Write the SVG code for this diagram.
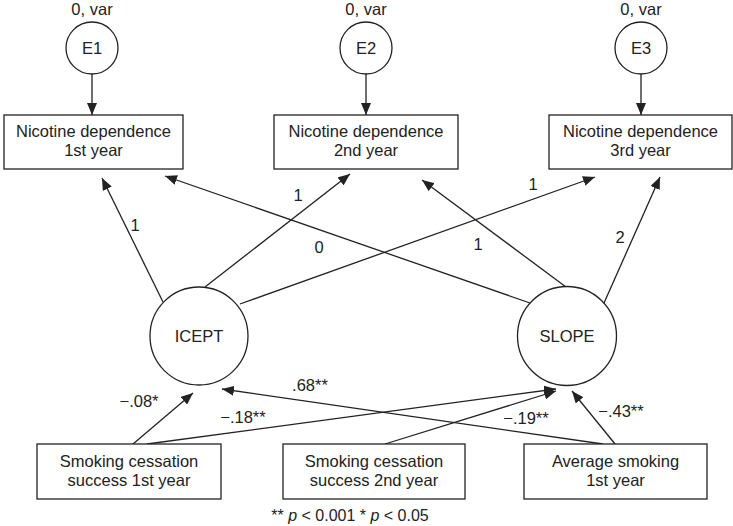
<svg xmlns="http://www.w3.org/2000/svg" width="733" height="526" viewBox="0 0 733 526">
<style>
text{font-family:"Liberation Sans",Arial,sans-serif;font-size:16.5px;fill:#222;text-anchor:middle}
.n{fill:#fff;stroke:#222;stroke-width:1.3}
.c line{stroke:#222;stroke-width:1.3;marker-end:url(#ah)}
</style>
<defs>
<marker id="ah" viewBox="0 0 12 10" refX="12" refY="5" markerWidth="12" markerHeight="10" markerUnits="userSpaceOnUse" orient="auto">
<path d="M0,0 L12,5 L0,10 z" fill="#222"/>
</marker>
</defs>
<rect width="733" height="526" fill="#fff"/>
<g class="c" id="connectors">
<line x1="92" y1="74" x2="92" y2="115"/>
<line x1="366" y1="74" x2="366" y2="115"/>
<line x1="641" y1="74" x2="641" y2="115"/>
<line x1="163" y1="302" x2="102" y2="178"/>
<line x1="205" y1="287" x2="350" y2="174"/>
<line x1="240" y1="304" x2="595" y2="177"/>
<line x1="530" y1="303" x2="165" y2="176"/>
<line x1="566" y1="287" x2="422" y2="180"/>
<line x1="604" y1="303" x2="660" y2="177"/>
<line x1="133" y1="444" x2="193" y2="393"/>
<line x1="147" y1="444" x2="556" y2="389"/>
<line x1="385" y1="444" x2="556" y2="391"/>
<line x1="603" y1="444" x2="222" y2="389"/>
<line x1="615" y1="444" x2="572" y2="391"/>
</g>
<g id="labels">
<text x="135" y="231">1</text>
<text x="298" y="201">1</text>
<text x="319" y="253">0</text>
<text x="478" y="250">1</text>
<text x="620" y="243">2</text>
<text x="533" y="190">1</text>
<text x="139" y="407">−.08*</text>
<text x="243" y="423">−.18**</text>
<text x="310" y="391">.68**</text>
<text x="526" y="424">−.19**</text>
<text x="621" y="417">−.43**</text>
</g>
<g id="E1"><text x="92" y="15">0, var</text><circle class="n" cx="92" cy="48" r="26"/><text x="92" y="54">E1</text></g>
<g id="E2"><text x="366" y="15">0, var</text><circle class="n" cx="366" cy="48" r="26"/><text x="366" y="54">E2</text></g>
<g id="E3"><text x="641" y="15">0, var</text><circle class="n" cx="641" cy="48" r="26"/><text x="641" y="54">E3</text></g>
<g id="ND1"><rect class="n" x="4" y="115" width="179" height="54"/><text x="93.5" y="137">Nicotine dependence</text><text x="93.5" y="156">1st year</text></g>
<g id="ND2"><rect class="n" x="274" y="115" width="184" height="54"/><text x="366" y="137">Nicotine dependence</text><text x="366" y="156">2nd year</text></g>
<g id="ND3"><rect class="n" x="549" y="115" width="183" height="54"/><text x="640.5" y="137">Nicotine dependence</text><text x="640.5" y="156">3rd year</text></g>
<g id="ICEPT"><circle class="n" cx="199" cy="336" r="49"/><text x="199" y="342">ICEPT</text></g>
<g id="SLOPE"><circle class="n" cx="567" cy="336" r="49.5"/><text x="567" y="342">SLOPE</text></g>
<g id="SCS1"><rect class="n" x="37" y="444" width="184" height="55"/><text x="129" y="467">Smoking cessation</text><text x="129" y="486">success 1st year</text></g>
<g id="SCS2"><rect class="n" x="283" y="444" width="182" height="55"/><text x="374" y="467">Smoking cessation</text><text x="374" y="486">success 2nd year</text></g>
<g id="AS1"><rect class="n" x="524" y="444" width="183" height="55"/><text x="615.5" y="467">Average smoking</text><text x="615.5" y="486">1st year</text></g>
<text x="350" y="521" style="font-size:16px">** <tspan font-style="italic">p</tspan> &lt; 0.001 * <tspan font-style="italic">p</tspan> &lt; 0.05</text>
</svg>
